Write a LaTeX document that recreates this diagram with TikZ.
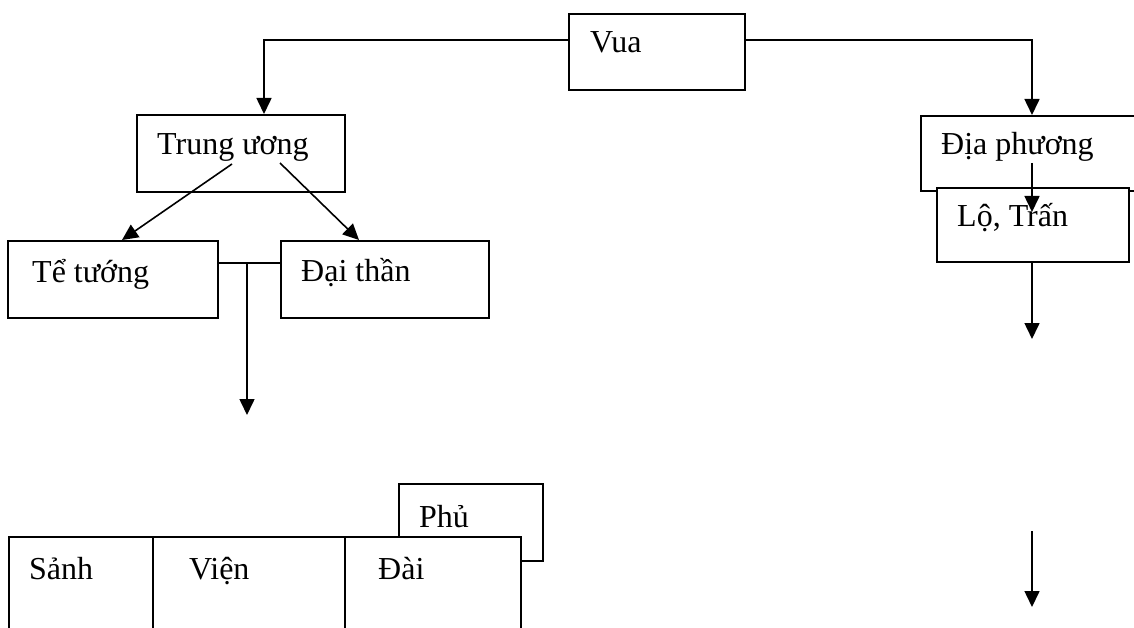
\documentclass[tikz,border=0pt]{standalone}
\usepackage{fontspec}
\setmainfont{Liberation Serif}
\usetikzlibrary{arrows.meta,calc}
\tikzset{
  box/.style={draw=black, fill=white, line width=1.6pt, inner sep=0pt, anchor=north west},
  lbl/.style={anchor=base west, inner sep=0pt, font=\fontsize{32}{36}\selectfont},
  conn/.style={line width=1.6pt},
  arr/.style={line width=1.6pt, -{Triangle[length=16pt,width=15pt]}}
}
\newcommand{\bx}[5]{\node[box, minimum width=#4pt, minimum height=#5pt] (#1) at (#2,#3) {};}
\begin{document}
\begin{tikzpicture}[x=1pt,y=-1pt]
\useasboundingbox (0,0) rectangle (1134,628);
\clip (0,0) rectangle (1134,628);
% top
\bx{vua}{568}{13}{176}{76}
\node[lbl] (vuat) at (590,53) {Vua};
\bx{tw}{136}{114}{208}{77}
\node[lbl] (twt) at (157,155) {Trung ương};
\bx{dp}{920}{115}{230}{75}
\node[lbl] (dpt) at (941,155) {Địa phương};
\bx{lt}{936}{187}{192}{74}
\node[lbl] (ltt) at (957,227) {Lộ, Trấn};
\bx{tt}{7}{240}{210}{77}
\node[lbl] (ttt) at (32,282) {Tể tướng};
\bx{dt}{280}{240}{208}{77}
\node[lbl] (dtt) at (301,281) {Đại thần};
% bottom
\bx{phu}{398}{483}{144}{77}
\node[lbl] (phut) at (419,527) {Phủ};
\bx{sanh}{8}{536}{144}{110}
\bx{vien}{152}{536}{192}{110}
\bx{dai}{344}{536}{176}{110}
\node[lbl] (sanht) at (29,579) {Sảnh};
\node[lbl] (vient) at (189,579) {Viện};
\node[lbl] (dait) at (378,579) {Đài};
% coordinates
\coordinate (vl) at ([yshift=12pt]vua.west);
\coordinate (vr) at ([yshift=12pt]vua.east);
\coordinate (twin) at (264,114);
\coordinate (dpin) at (1032,115);
\coordinate (tws1) at (232,164);
\coordinate (tws2) at (280,163);
\coordinate (ttin) at (122,240);
\coordinate (dtin) at (359,240);
\coordinate (tte) at (217,263);
\coordinate (dtw) at (280,263);
\coordinate (jn) at (247,263);
\coordinate (jnend) at (247,415);
\coordinate (dps) at (1032,163);
\coordinate (dpe) at (1032,212);
\coordinate (lts) at (1032,261);
\coordinate (lte) at (1032,339);
\coordinate (r2s) at (1032,531);
\coordinate (r2e) at (1032,607);
% connectors
\draw[arr] (vl) -| (twin);
\draw[arr] (vr) -| (dpin);
\draw[arr] (tws1) -- (ttin);
\draw[arr] (tws2) -- (dtin);
\draw[conn] (tte) -- (dtw);
\draw[arr] (jn) -- (jnend);
\draw[arr] (dps) -- (dpe);
\draw[arr] (lts) -- (lte);
\draw[arr] (r2s) -- (r2e);
\end{tikzpicture}
\end{document}
